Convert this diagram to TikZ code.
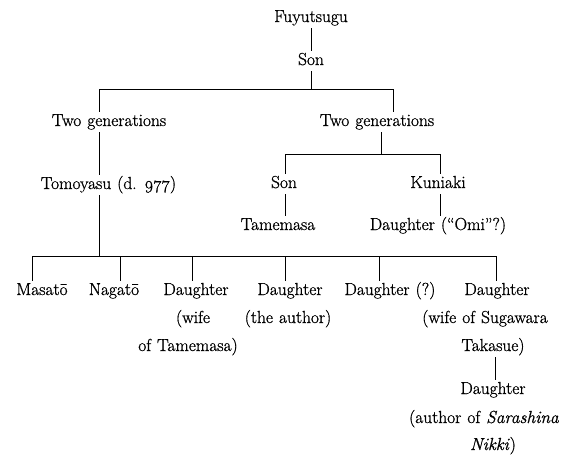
\documentclass[tikz,border=0pt]{standalone}
\usepackage{fontspec}
\setmainfont{Latin Modern Roman}[FakeBold=0.9, WordSpace=1.15, ItalicFeatures={FakeBold=0.9}]
\newcommand{\osn}[1]{{\addfontfeatures{Numbers=OldStyle}#1}}
\begin{document}
\begin{tikzpicture}[x=1pt,y=-1pt,
  lbl/.style={inner xsep=0pt, inner ysep=2pt, text height=12pt, text depth=4pt,
              font=\fontsize{17.4}{20}\selectfont},
  conn/.style={line width=0.85pt, line cap=rect}]
\useasboundingbox[fill=white] (0,0) rectangle (566,461);
% x positions of vertical connectors and y of horizontal bars
\coordinate (xF) at (311,0);
\coordinate (xL) at (99,0);
\coordinate (xR) at (393,0);
\coordinate (xT) at (381,0);
\coordinate (xS) at (285,0);
\coordinate (xK) at (440,0);
\coordinate (xc1) at (32,0);
\coordinate (xc2) at (120,0);
\coordinate (xc3) at (192,0);
\coordinate (xc4) at (285,0);
\coordinate (xc5) at (379,0);
\coordinate (xc6) at (496,0);
\coordinate (xD) at (495,0);
\coordinate (b1) at (0,89);
\coordinate (b2) at (0,154);
\coordinate (b3) at (0,256);
% nodes
\node[lbl] (fuy) at (311,18) {Fuyutsugu};
\node[lbl] (son1) at (311,61) {Son};
\node[lbl] (twoL) at (109,122) {Two generations};
\node[lbl] (twoR) at (377,122) {Two generations};
\node[lbl] (tomo) at (108.5,185) {Tomoyasu (d. \osn{977})};
\node[lbl] (son2) at (284,184) {Son};
\node[lbl] (kun) at (438,184) {Kuniaki};
\node[lbl] (tam) at (278,226) {Tamemasa};
\node[lbl] (omi) at (438,226) {Daughter (``Omi''?)};
\node[lbl] (mas) at (42,291) {Masat\=o};
\node[lbl] (nag) at (114,291) {Nagat\=o};
\node[lbl] (d1) at (196,291) {Daughter};
\node[lbl] (d1a) at (193,319) {(wife};
\node[lbl] (d1b) at (188,347) {of Tamemasa)};
\node[lbl] (d2) at (290,291) {Daughter};
\node[lbl] (d2a) at (288,319) {(the author)};
\node[lbl] (d3) at (390,291) {Daughter (?)};
\node[lbl] (d4) at (497,291) {Daughter};
\node[lbl] (d4a) at (485,319) {(wife of Sugawara};
\node[lbl] (d4b) at (493,347) {Takasue)};
\node[lbl] (d5) at (493,390) {Daughter};
\node[lbl] (d5a) at (484,419) {(author of \textit{Sarashina}};
\node[lbl] (d5b) at (493,446) {\textit{Nikki})};
% connectors
\draw[conn] (fuy.south) -- (son1.north);
\draw[conn] (son1.south) -- (xF |- b1);
\draw[conn] (xL |- twoL.north) -- (xL |- b1) -- (xR |- b1) -- (xR |- twoR.north);
\draw[conn] (xL |- twoL.south) -- (xL |- tomo.north);
\draw[conn] (xT |- twoR.south) -- (xT |- b2);
\draw[conn] (xS |- son2.north) -- (xS |- b2) -- (xK |- b2) -- (xK |- kun.north);
\draw[conn] (xS |- son2.south) -- (xS |- tam.north);
\draw[conn] (xK |- kun.south) -- (xK |- omi.north);
\draw[conn] (xL |- tomo.south) -- (xL |- b3);
\draw[conn] (xc1 |- mas.north) -- (xc1 |- b3) -- (xc6 |- b3) -- (xc6 |- d4.north);
\draw[conn] (xc2 |- b3) -- (xc2 |- nag.north);
\draw[conn] (xc3 |- b3) -- (xc3 |- d1.north);
\draw[conn] (xc4 |- b3) -- (xc4 |- d2.north);
\draw[conn] (xc5 |- b3) -- (xc5 |- d3.north);
\draw[conn] (xD |- d4b.south) -- (xD |- d5.north);
\end{tikzpicture}
\end{document}
